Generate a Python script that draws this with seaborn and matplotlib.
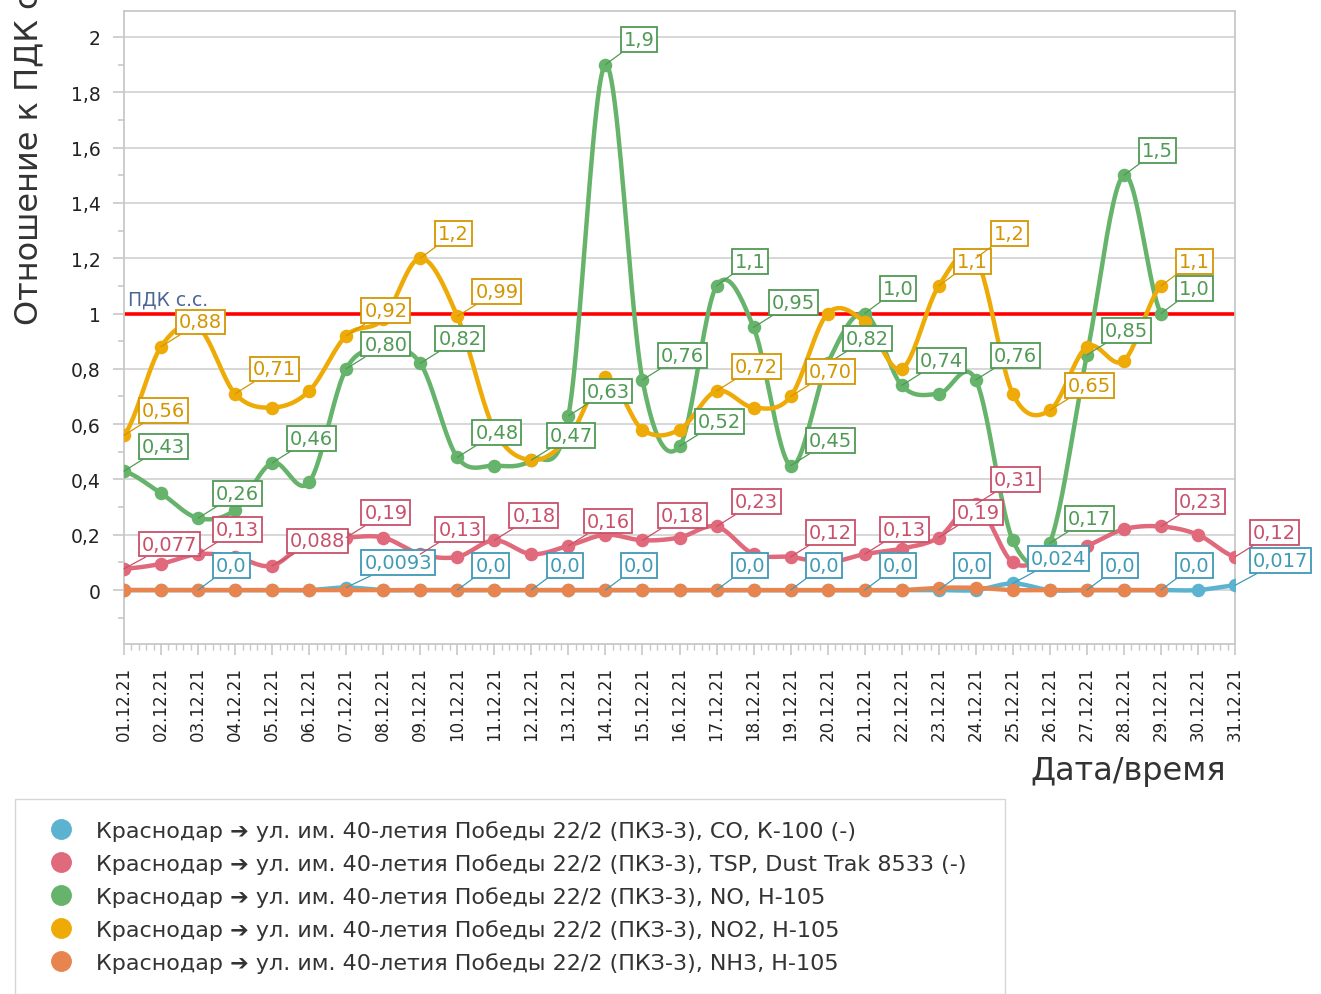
import numpy as np
import matplotlib
matplotlib.use("Agg")
import matplotlib.pyplot as plt
import seaborn as sns
from matplotlib.lines import Line2D
from matplotlib.ticker import MultipleLocator, FuncFormatter, FixedLocator

nan = np.nan

# dates 01.12.21 .. 31.12.21
dates = [f"{d:02d}.12.21" for d in range(1, 32)]

co = [0.0, 0.0, 0.0, 0.0, 0.0, 0.0, 0.0093, 0.0, 0.0, 0.0,
      0.0, 0.0, 0.0, 0.0, 0.0, 0.0, 0.0, 0.0, 0.0, 0.0,
      0.0, 0.0, 0.0, 0.0, 0.024, 0.0, 0.0, 0.0, 0.0, 0.0, 0.017]
tsp = [0.077, 0.095, 0.13, 0.12, 0.088, 0.18, 0.19, 0.19, 0.13, 0.12,
       0.18, 0.13, 0.16, 0.20, 0.18, 0.19, 0.23, 0.13, 0.12, 0.10,
       0.13, 0.15, 0.19, 0.31, 0.10, 0.12, 0.16, 0.22, 0.23, 0.20, 0.12]
no = [0.43, 0.35, 0.26, 0.29, 0.46, 0.39, 0.80, 0.87, 0.82, 0.48,
      0.45, 0.47, 0.63, 1.9, 0.76, 0.52, 1.1, 0.95, 0.45, 0.82,
      1.0, 0.74, 0.71, 0.76, 0.18, 0.17, 0.85, 1.5, 1.0, nan, nan]
no2 = [0.56, 0.88, 0.95, 0.71, 0.66, 0.72, 0.92, 0.98, 1.2, 0.99,
       0.58, 0.47, 0.55, 0.77, 0.58, 0.58, 0.72, 0.66, 0.70, 1.0,
       0.97, 0.80, 1.1, 1.2, 0.71, 0.65, 0.88, 0.83, 1.1, nan, nan]
nh3 = [0.0, 0.0, 0.0, 0.0, 0.0, 0.0, 0.0, 0.0, 0.0, 0.0,
       0.0, 0.0, 0.0, 0.0, 0.0, 0.0, 0.0, 0.0, 0.0, 0.0,
       0.0, 0.0, 0.008, 0.008, 0.0, 0.0, 0.0, 0.0, 0.0, nan, nan]

names = [
    "Краснодар ➔ ул. им. 40-летия Победы 22/2 (ПКЗ-3), CO, К-100 (-)",
    "Краснодар ➔ ул. им. 40-летия Победы 22/2 (ПКЗ-3), TSP, Dust Trak 8533 (-)",
    "Краснодар ➔ ул. им. 40-летия Победы 22/2 (ПКЗ-3), NO, Н-105",
    "Краснодар ➔ ул. им. 40-летия Победы 22/2 (ПКЗ-3), NO2, Н-105",
    "Краснодар ➔ ул. им. 40-летия Победы 22/2 (ПКЗ-3), NH3, Н-105",
]
colors = ["#5cb3cf", "#e0697c", "#66b36b", "#eeab08", "#e8854f"]
text_colors = ["#3f9ab6", "#c9506a", "#4f9a55", "#d39600", "#d06a36"]

# which days carry a value label
labelled = [
    [2, 6, 9, 11, 13, 16, 18, 20, 22, 24, 26, 28, 30],
    [0, 2, 4, 6, 8, 10, 12, 14, 16, 18, 20, 22, 23, 28, 30],
    [0, 2, 4, 6, 8, 9, 11, 12, 13, 14, 15, 16, 17, 18, 19, 20, 21, 23, 25, 26, 27, 28],
    [0, 1, 3, 6, 8, 9, 16, 18, 22, 23, 25, 28],
    [],
]

PDK = 1.0


def fmt_value(v):
    if v == 0:
        return "0,0"
    digits = max(1, 1 - int(np.floor(np.log10(abs(v)))))
    return f"{v:.{digits}f}".replace(".", ",")


def catmull_rom(x, y, n=24):
    xs, ys = [], []
    for i in range(len(x) - 1):
        p0 = y[i - 1] if i > 0 else y[i]
        p1, p2 = y[i], y[i + 1]
        p3 = y[i + 2] if i + 2 < len(y) else y[i + 1]
        t = np.linspace(0, 1, n, endpoint=False)
        seg = 0.5 * (2 * p1 + (-p0 + p2) * t
                     + (2 * p0 - 5 * p1 + 4 * p2 - p3) * t ** 2
                     + (-p0 + 3 * p1 - 3 * p2 + p3) * t ** 3)
        xs.extend(x[i] + (x[i + 1] - x[i]) * t)
        ys.extend(seg)
    xs.append(x[-1])
    ys.append(y[-1])
    return np.array(xs), np.array(ys)


sns.set_style("white")
plt.rcParams["font.family"] = ["DejaVu Sans"]

fig = plt.figure(figsize=(13.21, 9.95), dpi=100)
ax = fig.add_axes([124 / 1321, 1 - 645 / 995, 1111 / 1321, 633 / 995])

days = np.arange(len(dates))
for k, vals in enumerate([co, tsp, no, no2, nh3]):
    vals = np.array(vals, dtype=float)
    ok = ~np.isnan(vals)
    xs, ys = catmull_rom(days[ok], vals[ok])
    sns.lineplot(x=xs, y=ys, color=colors[k], lw=3.2, ax=ax, estimator=None,
                 sort=False, legend=False, zorder=3 + k)
    sns.scatterplot(x=days[ok], y=vals[ok], color=colors[k], s=95, linewidth=0,
                    ax=ax, legend=False, zorder=3.5 + k)

ax.axhline(PDK, color="#ff0000", lw=2.6, zorder=2.5)
ax.text(0.1, PDK + 0.02, "ПДК с.с.", color="#4b6597", fontsize=13.5, va="bottom")

# value labels
for k, vals in enumerate([co, tsp, no, no2, nh3]):
    for d in labelled[k]:
        ax.annotate(fmt_value(vals[d]), xy=(d, vals[d]), xytext=(13, 11),
                    textcoords="offset points", ha="left", va="bottom",
                    fontsize=14, color=text_colors[k], zorder=20,
                    bbox=dict(boxstyle="square,pad=0.15", fc="white",
                              ec=text_colors[k], lw=1.3),
                    arrowprops=dict(arrowstyle="-", color=text_colors[k], lw=0.9,
                                    shrinkA=0, shrinkB=0),
                    annotation_clip=False)

ax.set_xlim(0, 30)
ax.set_ylim(-0.195, 2.094)
ax.set_xticks(days)
ax.set_xticklabels(dates, rotation=90, fontsize=12, color="#222222")
ax.xaxis.set_minor_locator(MultipleLocator(0.2))
ax.yaxis.set_major_locator(FixedLocator(np.round(np.arange(0, 2.01, 0.2), 1)))
ax.yaxis.set_major_formatter(FuncFormatter(lambda v, p: f"{round(v, 1):g}".replace(".", ",")))
ax.yaxis.set_minor_locator(MultipleLocator(0.1))
ax.tick_params(axis="y", which="major", length=8, width=1.2, color="#c8c8c8",
               labelsize=13.5, pad=9, labelcolor="#222222", left=True)
ax.tick_params(axis="y", which="minor", length=4, width=1.2, color="#c8c8c8", left=True)
ax.tick_params(axis="x", which="major", length=8, width=1.2, color="#c8c8c8",
               pad=8, bottom=True)
ax.tick_params(axis="x", which="minor", length=4, width=1, color="#c8c8c8", bottom=True)
ax.grid(axis="y", color="#d4d4d4", lw=1.3)
ax.set_axisbelow(True)
for s in ax.spines.values():
    s.set_color("#c8c8c8")
    s.set_linewidth(1.3)
ax.set_xlabel("")
ax.set_ylabel("")

fig.text(0.022, 1 - 325 / 995, "Отношение к ПДК с.с.:", rotation=90, ha="center",
         va="bottom", fontsize=23, color="#333333")
fig.text(1226 / 1321, 1 - 787 / 995, "Дата/время", ha="right", va="bottom",
         fontsize=23, color="#333333")

handles = [Line2D([], [], ls="none", marker="o", markersize=14, color=c) for c in colors]
fig.legend(handles, names, loc="upper left",
           bbox_to_anchor=(15 / 1321, 1 - 800 / 995 - 0.1, 990 / 1321, 0.1), mode="expand",
           borderaxespad=0, frameon=True, fancybox=False, edgecolor="#cccccc", fontsize=16,
           labelspacing=0.55, handletextpad=0.5, borderpad=0.95, handlelength=2.2,
           labelcolor="#333333")

fig.savefig("out.png", dpi=100)
